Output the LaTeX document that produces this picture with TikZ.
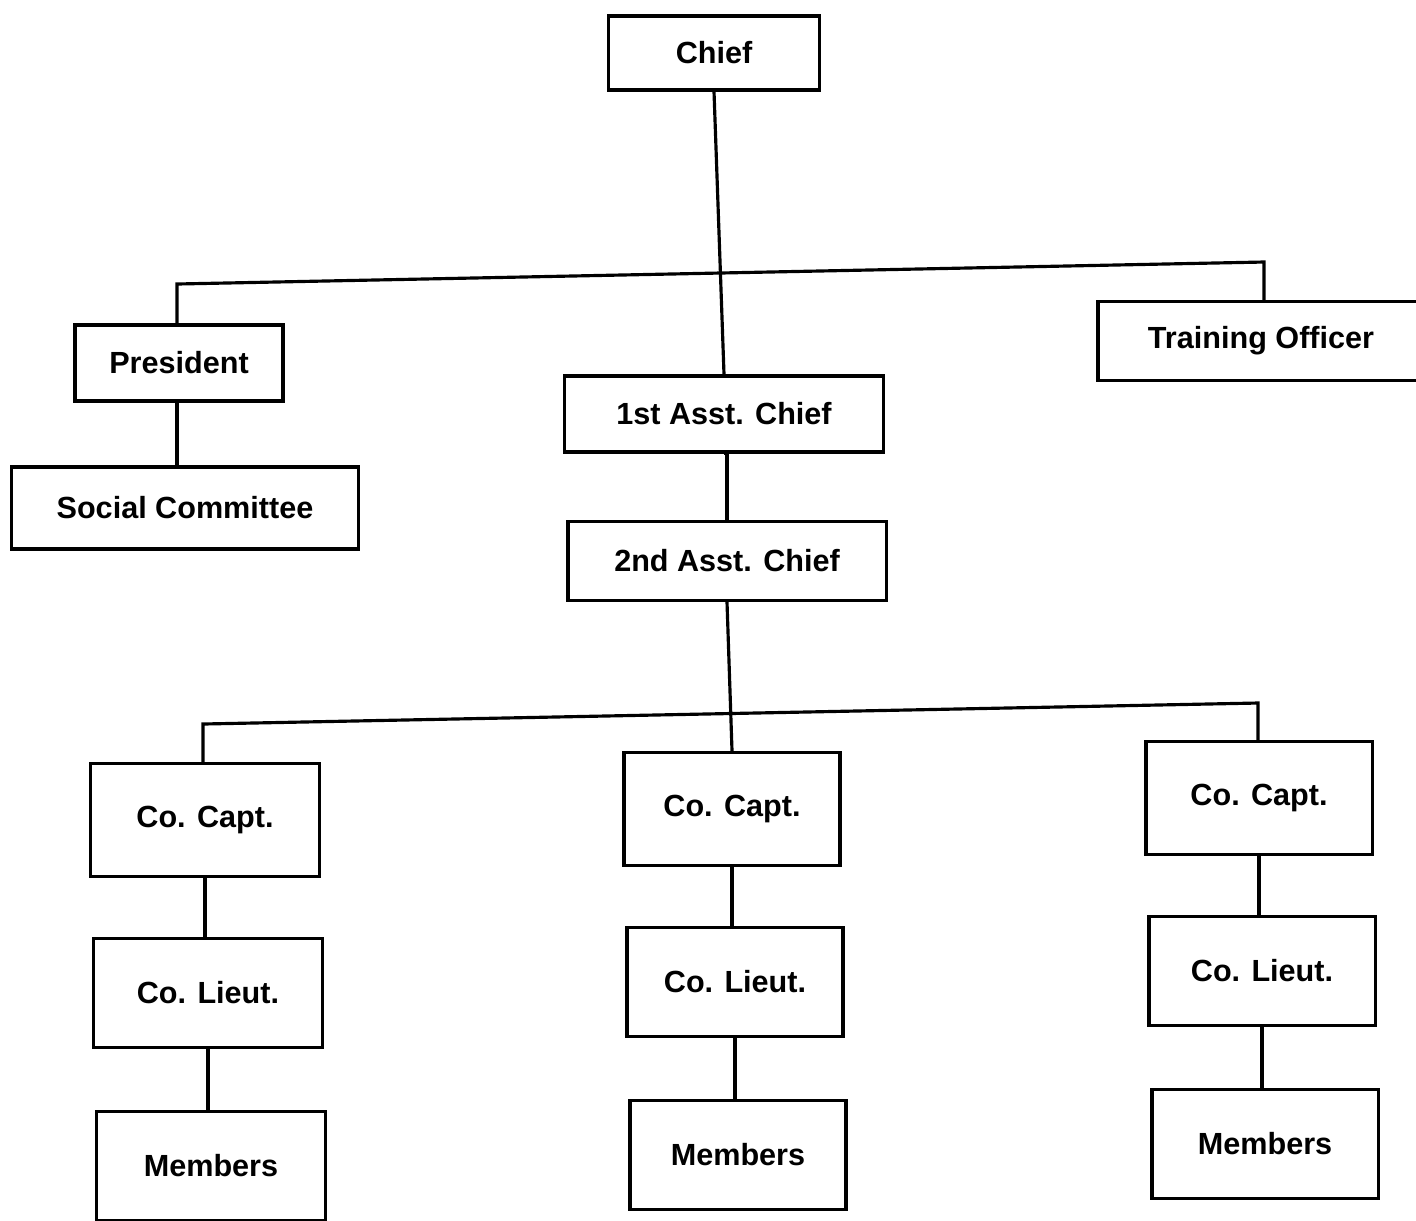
\documentclass[tikz,border=0pt]{standalone}
\usepackage{fontspec}
\setsansfont{Liberation Sans}
\begin{document}
\begin{tikzpicture}[x=0.01cm, y=-0.01cm,
    post/.style={draw, line width=0.9pt, inner sep=0pt,
      font=\sffamily\bfseries\fontsize{8.7}{10}\selectfont},
    link/.style={line width=0.9pt}]
  \useasboundingbox (0,0) rectangle (1416,1220);

  % top of the chart
  \node [post, minimum width=2.11cm, minimum height=0.74cm] (chief) at (714,53) {Chief};
  \node [post, minimum width=2.08cm, minimum height=0.76cm] (pres) at (179,363) {President};
  \node [post, minimum width=3.46cm, minimum height=0.82cm] (social) at (185,508) {Social Committee};
  \node [post, minimum width=3.26cm, minimum height=0.79cm] (train) at (1261,341) {Training Officer};
  \node [post, minimum width=3.19cm, minimum height=0.76cm] (asst1) at (724,414) {1st Asst. Chief};
  \node [post, minimum width=3.18cm, minimum height=0.79cm] (asst2) at (727,561) {2nd Asst. Chief};

  \coordinate (bar1l) at (177,284);
  \coordinate (bar1r) at (1264,262);
  \draw [link] (chief.south) to (asst1.north);
  \draw [link] (pres.north -| bar1l) to (bar1l) to (bar1r) to (train.north -| bar1r);
  \draw [link] (pres.south -| bar1l) to (social.north -| bar1l);
  \draw [link] (asst1.south) to (asst2.south |- asst1.south) to (asst2.north);

  % companies
  \foreach \x/\y/\w/\n in {205/820/2.29/a, 732/809/2.16/b, 1259/798/2.26/c} {
    \node [post, minimum width=\w cm, minimum height=1.13cm] (capt\n) at (\x,\y) {Co. Capt.};
    \node [post, minimum width=\w cm, minimum height=1.09cm] (lieut\n) at (\x+3,\y+173) {Co. Lieut.};
    \node [post, minimum width=\w cm, minimum height=1.09cm] (memb\n) at (\x+6,\y+346) {Members};
    \draw [link] (capt\n.south) to (capt\n.south |- lieut\n.north);
    \draw [link] (lieut\n.south) to (lieut\n.south |- memb\n.north);
  }

  \coordinate (bar2l) at (203,724);
  \coordinate (bar2r) at (1258,703);
  \draw [link] (capta.north -| bar2l) to (bar2l) to (bar2r) to (captc.north -| bar2r);
  \draw [link] (asst2.south) to (captb.north);
\end{tikzpicture}
\end{document}
